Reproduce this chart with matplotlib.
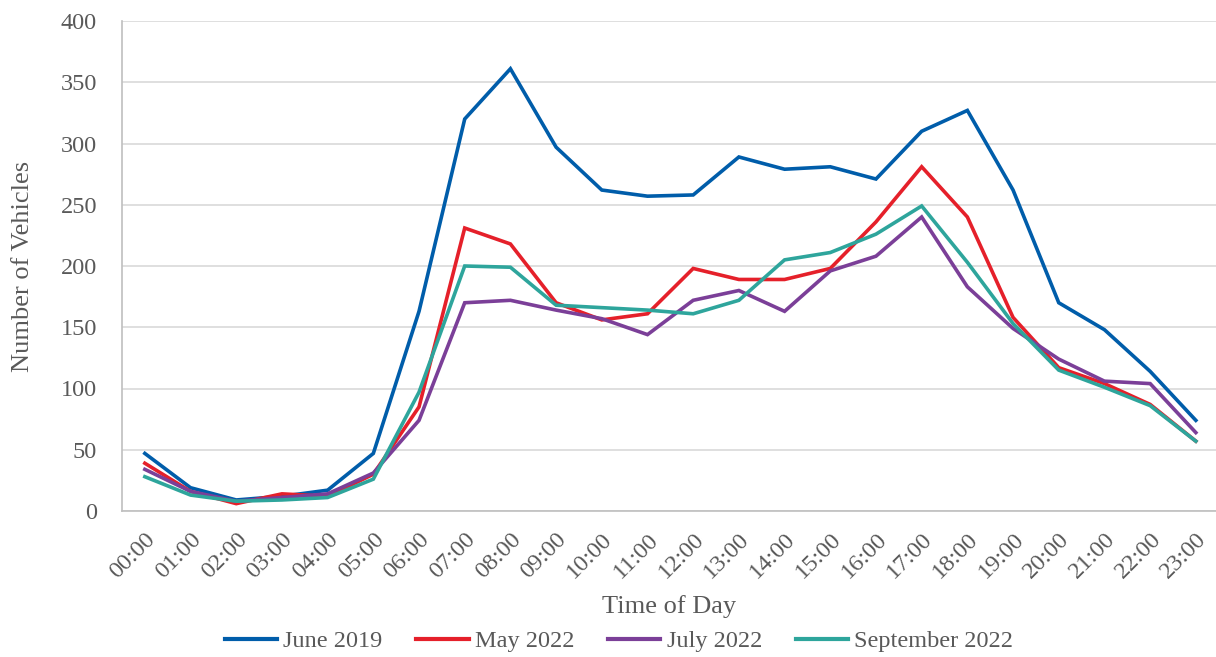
import matplotlib
matplotlib.use("Agg")
import matplotlib.pyplot as plt

# Data
hours = [f"{h:02d}:00" for h in range(24)]

june_2019 = [47, 19, 9, 12, 17, 47, 163, 320, 361, 297, 262, 257,
             258, 289, 279, 281, 271, 310, 327, 262, 170, 148, 114, 74]
may_2022 = [39, 16, 6, 14, 12, 30, 85, 231, 218, 170, 156, 161,
            198, 189, 189, 198, 236, 281, 240, 158, 117, 104, 87, 57]
july_2022 = [34, 16, 8, 11, 14, 31, 74, 170, 172, 164, 157, 144,
             172, 180, 163, 196, 208, 240, 183, 149, 124, 106, 104, 64]
sept_2022 = [28, 13, 8, 9, 11, 26, 97, 200, 199, 168, 166, 164,
             161, 172, 205, 211, 226, 249, 203, 153, 115, 101, 86, 57]

series = [
    ("June 2019", june_2019, "#005DAA"),
    ("May 2022", may_2022, "#E5202A"),
    ("July 2022", july_2022, "#7B3F98"),
    ("September 2022", sept_2022, "#2EA59C"),
]

TEXT = "#595959"
plt.rcParams["font.family"] = ["Liberation Serif", "DejaVu Serif"]

fig = plt.figure(figsize=(12.16, 6.57), dpi=100)
W, H = 1216, 657
left, right, top, bottom = 122, 1216, 21, 511
ax = fig.add_axes([left / W, (H - bottom) / H, (right - left) / W, (bottom - top) / H])

x = list(range(len(hours)))
for name, vals, col in series:
    ax.plot(x, vals, color=col, lw=2.6, label=name, solid_joinstyle="miter")

step = (1196 - 145) / 23
ax.set_xlim(-0.5, -0.5 + (right - left) / step)
ax.set_ylim(0, 400)
ax.set_yticks(range(0, 401, 50))
ax.set_xticks(x)
ax.set_xticklabels(hours, rotation=45, ha="right", rotation_mode="anchor")

ax.grid(axis="y", color="#d9d9d9", lw=1.2)
ax.set_axisbelow(True)
for s in ["top", "right"]:
    ax.spines[s].set_visible(False)
for s in ["left", "bottom"]:
    ax.spines[s].set_color("#bfbfbf")
    ax.spines[s].set_linewidth(1.2)

ax.tick_params(axis="both", length=0, labelsize=17.5, colors=TEXT)
ax.tick_params(axis="y", pad=18)
ax.tick_params(axis="x", pad=13)

ax.set_xlabel("Time of Day", fontsize=19, color=TEXT, labelpad=9)
ax.set_ylabel("Number of Vehicles", fontsize=19, color=TEXT, labelpad=19)

leg = fig.legend(loc="center", bbox_to_anchor=(619 / W, 1 - 641 / H), ncol=4,
                 frameon=False, fontsize=17.5, handlelength=2.15,
                 columnspacing=1.4, handletextpad=0.25)
for line in leg.get_lines():
    line.set_linewidth(3)
for t in leg.get_texts():
    t.set_color(TEXT)

fig.savefig("out.png", dpi=100)
